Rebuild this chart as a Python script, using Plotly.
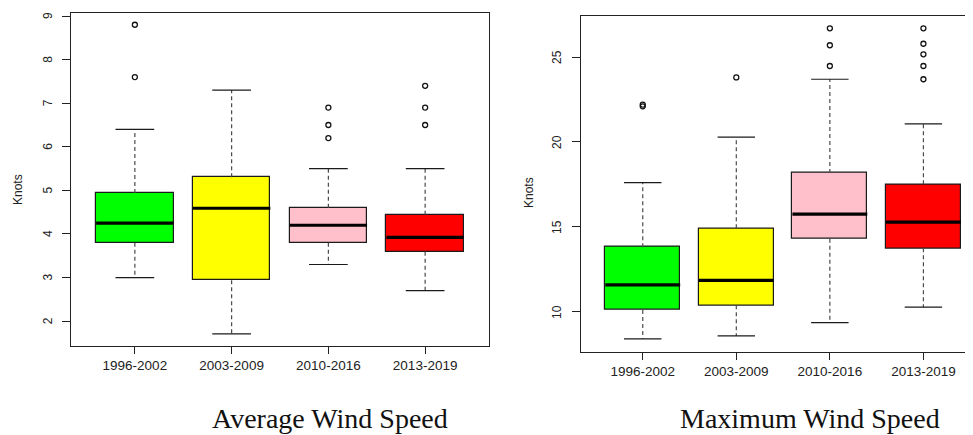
import plotly.graph_objects as go

# ---- data ----
categories = ["1996-2002", "2003-2009", "2010-2016", "2013-2019"]
box_colors = ["#00FF00", "#FFFF00", "#FFC0CB", "#FF0000"]

avg_q1 = [3.80, 2.94, 3.80, 3.59]
avg_med = [4.25, 4.59, 4.20, 3.92]
avg_q3 = [4.94, 5.30, 4.60, 4.44]
avg_wlo = [3.00, 1.71, 3.30, 2.70]
avg_whi = [6.40, 7.30, 5.50, 5.50]
avg_out = [[7.6, 8.8], [], [6.2, 6.5, 6.9], [6.5, 6.9, 7.4]]

max_q1 = [10.12, 10.39, 14.31, 13.75]
max_med = [11.59, 11.86, 15.75, 15.28]
max_q3 = [13.81, 14.92, 18.18, 17.51]
max_wlo = [8.41, 8.59, 9.37, 10.28]
max_whi = [17.61, 20.28, 23.69, 21.06]
max_out = [[22.1, 22.2], [23.8], [24.47, 25.69, 26.69], [23.69, 24.47, 25.16, 25.78, 26.69]]

avg_ticks = [2, 3, 4, 5, 6, 7, 8, 9]
max_ticks = [10, 15, 20, 25]

panel_titles = ["Average Wind Speed", "Maximum Wind Speed"]
y_title = "Knots"

# page has a default 8px body margin: figure is sized/placed to compensate
OFF = 8
FW, FH = 973 - OFF, 435 - OFF


def fx(x):
    return (x - OFF) / FW


def fy(y):
    return 1 - (y - OFF) / FH


fig = go.Figure()
positions = [1, 2, 3, 4]


def add_panel(idx, q1, med, q3, wlo, whi, outs):
    xa = "x" if idx == 1 else "x2"
    ya = "y" if idx == 1 else "y2"
    fig.add_trace(go.Bar(
        x=positions, y=[b - a for a, b in zip(q1, q3)], base=q1, width=0.8,
        marker=dict(color=box_colors, line=dict(color="#1a1a1a", width=1.2)),
        xaxis=xa, yaxis=ya, showlegend=False, hoverinfo="skip"))
    wx, wy = [], []
    for p, a, b, lo, hi in zip(positions, q1, q3, wlo, whi):
        wx += [p, p, None, p, p, None]
        wy += [b, hi, None, a, lo, None]
    fig.add_trace(go.Scatter(x=wx, y=wy, mode="lines",
                             line=dict(color="#4a4a4a", width=1.2, dash="4px,3px"),
                             xaxis=xa, yaxis=ya, showlegend=False, hoverinfo="skip"))
    cx, cy = [], []
    for p, lo, hi in zip(positions, wlo, whi):
        cx += [p - 0.2, p + 0.2, None, p - 0.2, p + 0.2, None]
        cy += [hi, hi, None, lo, lo, None]
    fig.add_trace(go.Scatter(x=cx, y=cy, mode="lines",
                             line=dict(color="#1a1a1a", width=1.2),
                             xaxis=xa, yaxis=ya, showlegend=False, hoverinfo="skip"))
    mx, my = [], []
    for p, m in zip(positions, med):
        mx += [p - 0.4, p + 0.4, None]
        my += [m, m, None]
    fig.add_trace(go.Scatter(x=mx, y=my, mode="lines",
                             line=dict(color="#000", width=3.2),
                             xaxis=xa, yaxis=ya, showlegend=False, hoverinfo="skip"))
    ox, oy = [], []
    for p, o in zip(positions, outs):
        ox += [p] * len(o)
        oy += o
    fig.add_trace(go.Scatter(x=ox, y=oy, mode="markers",
                             marker=dict(symbol="circle-open", size=5, color="#111",
                                         line=dict(width=1.3)),
                             xaxis=xa, yaxis=ya, showlegend=False, hoverinfo="skip"))


add_panel(1, avg_q1, avg_med, avg_q3, avg_wlo, avg_whi, avg_out)
add_panel(2, max_q1, max_med, max_q3, max_wlo, max_whi, max_out)

sans = "Liberation Sans, Arial"
tickfont_x = dict(family=sans, size=13.5, color="#222")

common_x = dict(tickmode="array", tickvals=positions, ticktext=categories,
                ticks="outside", ticklen=7, tickcolor="#222", tickwidth=1,
                showgrid=False, zeroline=False, showline=True, linecolor="#222",
                linewidth=1, mirror=True, tickfont=tickfont_x)
common_y = dict(tickmode="array", ticks="outside", ticklen=8, tickcolor="#222", tickwidth=1,
                showgrid=False, zeroline=False, showline=True, linecolor="#222",
                linewidth=1, showticklabels=False)

fig.update_layout(
    width=FW, height=FH,
    margin=dict(l=0, r=0, t=0, b=0),
    paper_bgcolor="white", plot_bgcolor="white",
    bargap=0,
    xaxis=dict(common_x, domain=[fx(71), fx(489)], range=[0.34, 4.66], anchor="y"),
    yaxis=dict(common_y, domain=[fy(346), fy(13)], range=[1.43, 9.07],
               tickvals=avg_ticks, mirror=True, anchor="x"),
    xaxis2=dict(common_x, domain=[fx(581), 1.0], range=[0.34, 4.53], anchor="y2"),
    yaxis2=dict(common_y, domain=[fy(351.7), fy(15.7)], range=[7.66, 27.43],
                tickvals=max_ticks, mirror=False, anchor="x2"),
)

# rotated y tick labels (R style, parallel to the axis)
for t in avg_ticks:
    fig.add_annotation(text=str(t), x=fx(48), y=t, xref="paper", yref="y",
                       textangle=-90, showarrow=False, xanchor="center", yanchor="middle",
                       font=dict(family=sans, size=12, color="#222"))
for t in max_ticks:
    fig.add_annotation(text=str(t), x=fx(557), y=t, xref="paper", yref="y2",
                       textangle=-90, showarrow=False, xanchor="center", yanchor="middle",
                       font=dict(family=sans, size=12, color="#222"))

# axis titles
fig.add_annotation(text=y_title, x=fx(18), y=fy(190), xref="paper", yref="paper",
                   textangle=-90, showarrow=False, xanchor="center", yanchor="middle",
                   font=dict(family=sans, size=12, color="#222"))
fig.add_annotation(text=y_title, x=fx(529), y=fy(193), xref="paper", yref="paper",
                   textangle=-90, showarrow=False, xanchor="center", yanchor="middle",
                   font=dict(family=sans, size=12, color="#222"))

# panel captions
serif = "Liberation Serif, Times New Roman"
fig.add_annotation(text=panel_titles[0], x=fx(330), y=fy(418), xref="paper", yref="paper",
                   showarrow=False, xanchor="center", yanchor="middle",
                   font=dict(family=serif, size=28, color="#111"))
fig.add_annotation(text=panel_titles[1], x=fx(810), y=fy(418), xref="paper", yref="paper",
                   showarrow=False, xanchor="center", yanchor="middle",
                   font=dict(family=serif, size=28, color="#111"))

fig.write_html("out.html")
